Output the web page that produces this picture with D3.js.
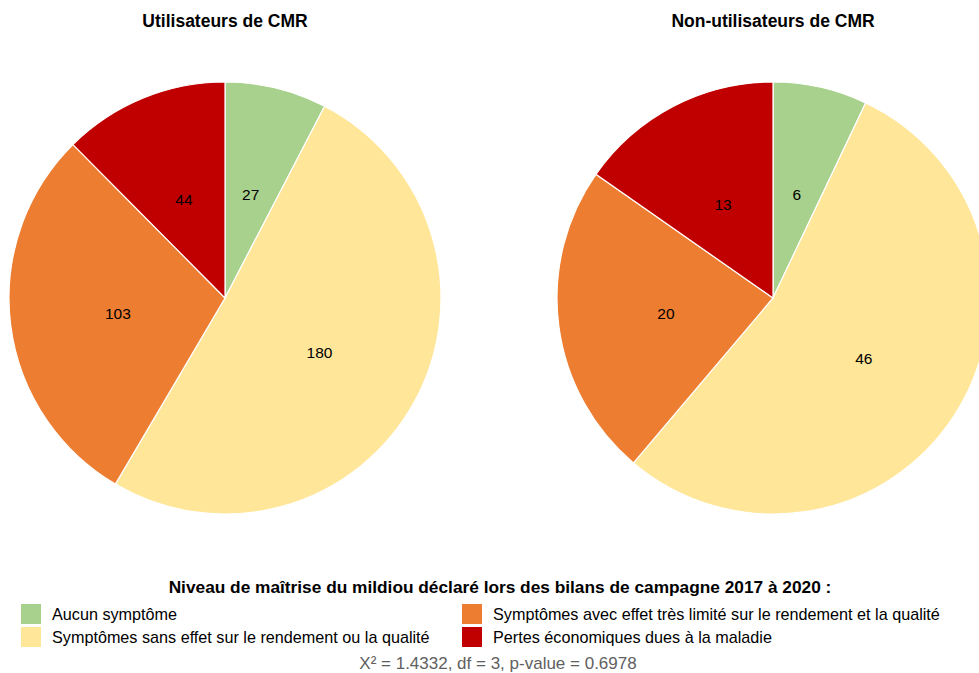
<!DOCTYPE html>
<html><head><meta charset="utf-8">
<script src="https://cdn.jsdelivr.net/npm/d3@7"></script>
<style>body{margin:0;background:#fff}svg{display:block;font-family:"Liberation Sans",Arial,sans-serif}</style>
</head><body><svg id="c" width="979" height="673"></svg>
<script>
const categories = ["Aucun symptôme","Symptômes sans effet sur le rendement ou la qualité","Symptômes avec effet très limité sur le rendement et la qualité","Pertes économiques dues à la maladie"];
const colors = ["#A9D18E","#FFE699","#ED7D31","#C00000"];
const groups = ["Utilisateurs de CMR","Non-utilisateurs de CMR"];
const usersValues = [27,180,103,44];
const nonUsersValues = [6,46,20,13];
const legendTitle = "Niveau de maîtrise du mildiou déclaré lors des bilans de campagne 2017 à 2020 :";
const caption = "X² = 1.4332, df = 3, p-value = 0.6978";

const svg = d3.select("#c");
const R = 216;
const centers = [[225,298],[773,298]];
const series = [usersValues, nonUsersValues];
const pie = d3.pie().sort(null).value(d=>d);
const arc = d3.arc().innerRadius(0).outerRadius(R);
const labelArc = d3.arc().innerRadius(R*0.5).outerRadius(R*0.5);
const color = d3.scaleOrdinal().domain(d3.range(categories.length)).range(colors);

series.forEach((vals,gi)=>{
  const g = svg.append("g").attr("transform",`translate(${centers[gi][0]},${centers[gi][1]})`);
  const arcs = pie(vals);
  g.selectAll("path").data(arcs).join("path")
    .attr("d",arc).attr("fill",(d,i)=>color(i))
    .attr("stroke","#fff").attr("stroke-width",1.2);
  g.selectAll("text").data(arcs).join("text")
    .attr("transform",d=>`translate(${labelArc.centroid(d)})`)
    .attr("text-anchor","middle").attr("dy","0.47em")
    .attr("font-size",15.5).attr("fill","#000")
    .text(d=>d.data);
  svg.append("text").attr("x",centers[gi][0]).attr("y",27)
    .attr("text-anchor","middle").attr("font-weight","bold").attr("font-size",17.5)
    .attr("fill","#000").text(groups[gi]);
});

svg.append("text").attr("x",500).attr("y",593).attr("text-anchor","middle")
  .attr("font-weight","bold").attr("font-size",17.3).attr("fill","#000").text(legendTitle);

const colX = [21,462], rowY = [604,627];
categories.forEach((c,i)=>{
  const col = i<2 ? 0 : 1;
  const row = [0,1,0,1][i];
  const x = colX[col], y = rowY[row];
  svg.append("rect").attr("x",x).attr("y",y).attr("width",20).attr("height",20).attr("fill",color(i));
  svg.append("text").attr("x",x+31).attr("y",y+10).attr("dy","0.35em")
    .attr("font-size",16.2).attr("fill","#000").text(c);
});

svg.append("text").attr("x",498).attr("y",669).attr("text-anchor","middle")
  .attr("font-size",17).attr("fill","#606060").text(caption);
</script></body></html>
